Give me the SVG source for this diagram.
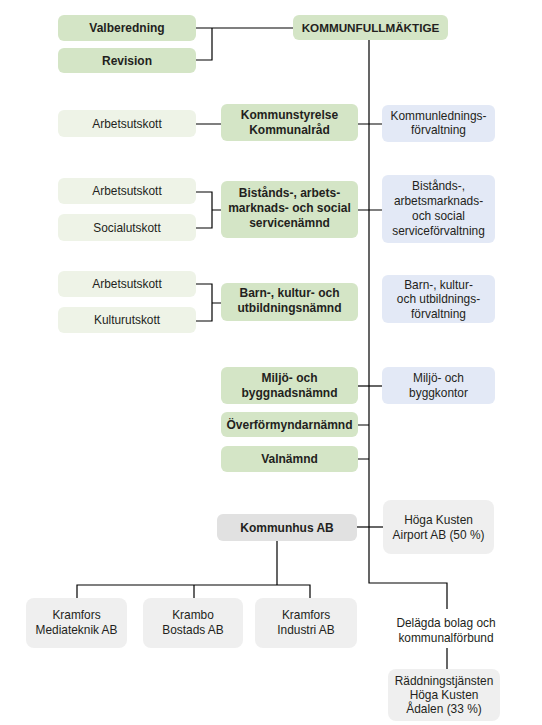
<svg xmlns="http://www.w3.org/2000/svg" width="542" height="725" viewBox="0 0 542 725">
<style>
.g{fill:#d4e5c6}
.lg{fill:#eef3e7}
.b{fill:#e3e9f6}
.k{fill:#e1e1e1}
.lk{fill:#efefef}
text{font-family:"Liberation Sans",Arial,sans-serif;font-size:11.9px;fill:#231f20;text-anchor:middle}
.bd{font-weight:bold;font-size:12px}
.kf{font-size:11.7px}
.c path{fill:none;stroke:#000;stroke-width:1.2}
</style>
<rect width="542" height="725" fill="#fff"/>
<g class="c" id="connectors">
<path d="M196,28H212V60H196M212,28H293"/>
<path d="M369,40V583H447V609"/>
<path d="M447,648V670"/>
<path d="M196,124H221M358,124H382"/>
<path d="M196,192H212V228H196M212,210H221M358,210H382"/>
<path d="M196,284H212V321H196M212,303H221"/>
<path d="M358,386H382"/>
<path d="M358,425H369M358,459H369"/>
<path d="M357,527H383"/>
<path d="M277,541V585M77,599V585H310V599M194,585V599"/>
</g>
<g id="valberedning"><rect class="g" x="58" y="15" width="138" height="26" rx="6"/><text class="bd" x="127" y="32">Valberedning</text></g>
<g id="revision"><rect class="g" x="58" y="48" width="138" height="25" rx="6"/><text class="bd" x="127" y="64.5">Revision</text></g>
<g id="kf"><rect class="g" x="293" y="15" width="155" height="25" rx="6"/><text class="bd kf" x="370.5" y="31.5">KOMMUNFULLMÄKTIGE</text></g>
<g id="au1"><rect class="lg" x="58" y="110" width="138" height="27" rx="6"/><text x="127" y="127.5">Arbetsutskott</text></g>
<g id="ks"><rect class="g" x="221" y="104" width="137" height="37" rx="6"/><text class="bd" x="289.5" y="119">Kommunstyrelse</text><text class="bd" x="289.5" y="134">Kommunalråd</text></g>
<g id="klf"><rect class="b" x="382" y="105" width="113" height="37" rx="6"/><text x="438.5" y="120">Kommunlednings-</text><text x="438.5" y="134">förvaltning</text></g>
<g id="au2"><rect class="lg" x="58" y="178" width="138" height="26" rx="6"/><text x="127" y="195">Arbetsutskott</text></g>
<g id="su"><rect class="lg" x="58" y="214" width="138" height="27" rx="6"/><text x="127" y="231.5">Socialutskott</text></g>
<g id="bn"><rect class="g" x="221" y="181" width="137" height="57" rx="6"/><text class="bd" x="289.5" y="197">Bistånds-, arbets-</text><text class="bd" x="289.5" y="212">marknads- och social</text><text class="bd" x="289.5" y="227">servicenämnd</text></g>
<g id="bf"><rect class="b" x="382" y="175" width="113" height="68" rx="6"/><text x="438.5" y="190">Bistånds-,</text><text x="438.5" y="205">arbetsmarknads-</text><text x="438.5" y="220">och social</text><text x="438.5" y="235">serviceförvaltning</text></g>
<g id="au3"><rect class="lg" x="58" y="271" width="138" height="26" rx="6"/><text x="127" y="288">Arbetsutskott</text></g>
<g id="ku"><rect class="lg" x="58" y="307" width="138" height="26" rx="6"/><text x="127" y="324">Kulturutskott</text></g>
<g id="bkn"><rect class="g" x="221" y="283" width="137" height="38" rx="6"/><text class="bd" x="289.5" y="297">Barn-, kultur- och</text><text class="bd" x="289.5" y="312">utbildningsnämnd</text></g>
<g id="bkf"><rect class="b" x="382" y="275" width="113" height="48" rx="6"/><text x="438.5" y="289">Barn-, kultur-</text><text x="438.5" y="303">och utbildnings-</text><text x="438.5" y="318">förvaltning</text></g>
<g id="mbn"><rect class="g" x="221" y="367" width="137" height="37" rx="6"/><text class="bd" x="289.5" y="382">Miljö- och</text><text class="bd" x="289.5" y="397">byggnadsnämnd</text></g>
<g id="mbk"><rect class="b" x="382" y="367" width="113" height="37" rx="6"/><text x="438.5" y="382">Miljö- och</text><text x="438.5" y="397">byggkontor</text></g>
<g id="ofn"><rect class="g" x="221" y="412" width="137" height="25" rx="6"/><text class="bd" x="289.5" y="428.5">Överförmyndarnämnd</text></g>
<g id="vn"><rect class="g" x="221" y="446" width="137" height="26" rx="6"/><text class="bd" x="289.5" y="463">Valnämnd</text></g>
<g id="kh"><rect class="k" x="217" y="514" width="140" height="27" rx="6"/><text class="bd" x="287" y="531.5">Kommunhus AB</text></g>
<g id="hka"><rect class="lk" x="383" y="500" width="111" height="54" rx="8"/><text x="438.5" y="524">Höga Kusten</text><text x="438.5" y="539">Airport AB (50 %)</text></g>
<g id="kma"><rect class="lk" x="26" y="598" width="101" height="50" rx="8"/><text x="76.5" y="619">Kramfors</text><text x="76.5" y="634">Mediateknik AB</text></g>
<g id="kba"><rect class="lk" x="143" y="598" width="100" height="50" rx="8"/><text x="193" y="619">Krambo</text><text x="193" y="634">Bostads AB</text></g>
<g id="kia"><rect class="lk" x="255" y="598" width="102" height="50" rx="8"/><text x="306" y="619">Kramfors</text><text x="306" y="634">Industri AB</text></g>
<g id="del"><text x="446" y="627">Delägda bolag och</text><text x="446" y="642">kommunalförbund</text></g>
<g id="rtj"><rect class="lk" x="388" y="669" width="112" height="52" rx="8"/><text x="444" y="685">Räddningstjänsten</text><text x="444" y="699">Höga Kusten</text><text x="444" y="713">Ådalen (33 %)</text></g>
</svg>
